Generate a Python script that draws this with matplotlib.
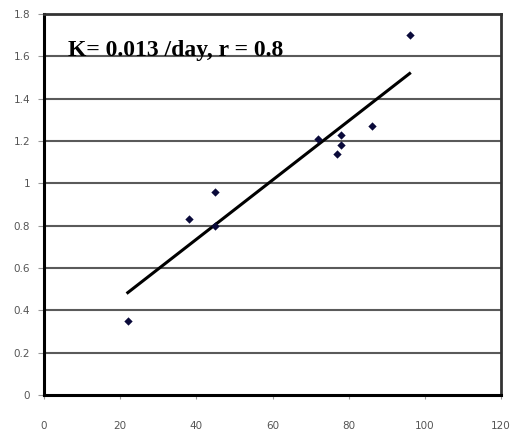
import numpy as np
import matplotlib
matplotlib.use("Agg")
import matplotlib.pyplot as plt

# Data
x_vals = [22, 38, 45, 45, 72, 78, 78, 77, 86, 96]
y_vals = [0.35, 0.83, 0.96, 0.80, 1.21, 1.23, 1.18, 1.14, 1.27, 1.70]
x_ticks = [0, 20, 40, 60, 80, 100, 120]
y_ticks = [0, 0.2, 0.4, 0.6, 0.8, 1.0, 1.2, 1.4, 1.6, 1.8]
y_tick_labels = ["0", "0.2", "0.4", "0.6", "0.8", "1", "1.2", "1.4", "1.6", "1.8"]
annotation = "K= 0.013 /day, r = 0.8"

fig = plt.figure(figsize=(5.16, 4.33), dpi=100)
ax = fig.add_axes([44/516, 38/433, 457/516, 381/433])

ax.set_xlim(0, 120)
ax.set_ylim(0, 1.8)

# grid lines
for yt in y_ticks[1:-1]:
    ax.axhline(yt, color="#5a5a5a", lw=1.5, zorder=1)

# data points
ax.scatter(x_vals, y_vals, marker="D", s=18, color="#0a0a3a", zorder=3, linewidths=0)

# regression line
coef = np.polyfit(x_vals, y_vals, 1)
xl = np.array([min(x_vals), max(x_vals)])
ax.plot(xl, np.polyval(coef, xl), color="black", lw=2.2, zorder=2)

ax.text(6.3, 1.6, annotation, fontsize=17, fontweight="bold",
        family="Liberation Serif", ha="left", va="baseline", zorder=4)

ax.set_xticks(x_ticks)
ax.set_xticklabels([str(v) for v in x_ticks])
ax.set_yticks(y_ticks)
ax.set_yticklabels(y_tick_labels)
ax.tick_params(axis="x", direction="out", length=3, width=0.8, color="#999999",
               labelsize=7.5, labelcolor="#555555", pad=16)
ax.tick_params(axis="y", direction="out", length=4, width=0.8, color="#999999",
               labelsize=7.5, labelcolor="#555555", pad=6)

for side in ["left", "bottom"]:
    ax.spines[side].set_linewidth(2.2)
    ax.spines[side].set_color("black")
for side in ["top", "right"]:
    ax.spines[side].set_linewidth(2.0)
    ax.spines[side].set_color("#333333")

fig.savefig("out.png", dpi=100)
